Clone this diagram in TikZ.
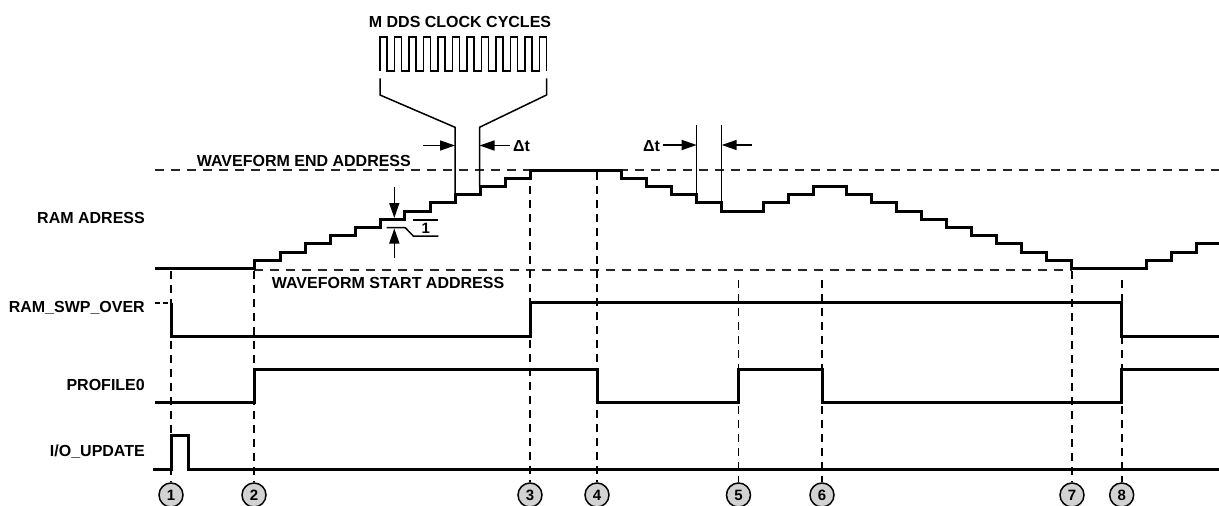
\documentclass[tikz,border=0pt]{standalone}
\usepackage{fontspec}
\setmainfont{Liberation Sans}
\usetikzlibrary{arrows.meta}
\begin{document}
\begin{tikzpicture}[x=1pt,y=-1pt,
  sig/.style={line width=3pt, line join=miter},
  thinln/.style={line width=1.5pt},
  dl/.style={line width=1.7pt, dash pattern=on 8pt off 6pt},
  dlthick/.style={line width=2.8pt, dash pattern=on 8pt off 6pt},
  hdl/.style={line width=1.5pt, black!85, dash pattern=on 9pt off 7pt},
  lbl/.style={font=\fontsize{16}{18}\selectfont\bfseries, inner sep=0pt},
  numcirc/.style={circle, draw, line width=1.5pt, fill=gray!35, minimum size=24pt, inner sep=0pt, font=\fontsize{15}{15}\selectfont\bfseries},
  arr/.style={thinln, -{Triangle[length=15pt,width=10pt]}},
]
\useasboundingbox (0,0) rectangle (1219,506);

% ---- labels ----
\node[lbl, anchor=base east] (lram) at (145,223) {RAM ADRESS};
\node[lbl, anchor=base east] (lswp) at (145,312.2) {RAM\_SWP\_OVER};
\node[lbl, anchor=base east] (lprof) at (145,390.7) {PROFILE0};
\node[lbl, anchor=base east] (lio) at (145,456.4) {I/O\_UPDATE};
\node[lbl, anchor=base] (lclk) at (460,27.4) {M DDS CLOCK CYCLES};
\node[lbl, anchor=base west] (lend) at (196.7,166.4) {WAVEFORM END ADDRESS};
\node[lbl, anchor=base west] (lstart) at (271.7,288) {WAVEFORM START ADDRESS};
\node[lbl, anchor=base west] (dt1) at (513,151.2) {Δt};
\node[lbl, anchor=base west] (dt2) at (643,151) {Δt};
\node[lbl, font=\fontsize{15}{15}\selectfont\bfseries, anchor=base] (one) at (425.7,233.5) {1};

% ---- marker circles ----
\foreach \n/\x in {1/171,2/254,3/530,4/597,5/738.5,6/822,7/1072,8/1121.7}
  \node[numcirc] (m\n) at (\x,495) {\n};

% ---- address reference lines ----
\draw[hdl] (155,170) -- (1219,170);
\draw[hdl] (254,270) -- (1072,270);

% ---- vertical dashed markers ----
\draw[dl] (171,271) -- (m1.north);
\draw[dl] (254,271) -- (m2.north);
\draw[dlthick] (530,172) -- (m3.north);
\draw[dl] (597,172) -- (m4.north);
\draw[dl] (738.5,280) -- (m5.north);
\draw[dl] (822,280) -- (m6.north);
\draw[dl] (1072,271) -- (m7.north);
\draw[dl] (1121.7,280) -- (m8.north);

% ---- RAM address staircase ----
\draw[sig] (155,268.5) -| (254,260.3) -| (280,252.1) -| (305,243.9) -| (330,235.7)
  -| (355,227.5) -| (380,219.3) -| (404.5,211.1) -| (430,202.9) -| (455,194.7)
  -| (480,186.5) -| (505,178.3) -| (530,170.1) -| (621.7,178.3) -| (646.7,186.5)
  -| (671.7,194.7) -| (696.7,202.9) -| (721.7,211.1) -| (763.3,202.9) -| (788.3,194.7)
  -| (813.3,186.5) -| (846,194.7) -| (871.7,202.9) -| (896.7,211.1) -| (921.7,219.3)
  -| (946.7,227.5) -| (971.7,235.7) -| (996.7,243.9) -| (1021.7,252.1) -| (1046.7,260.3)
  -| (1071.7,268.5) -| (1146.7,260.3) -| (1171.7,252.1) -| (1196.7,243.9) -- (1219,243.9);

% ---- RAM_SWP_OVER ----
\draw[line width=1.5pt, dash pattern=on 5pt off 3pt] (155,303) -- (170,303);
\draw[sig] (171,302.7) -- (171,336) -- (530,336) -- (530,302.7) -- (1121.7,302.7)
  -- (1121.7,336) -- (1219,336);

% ---- PROFILE0 ----
\draw[sig] (155,402) -- (254,402) -- (254,369) -- (597,369) -- (597,402) -- (738.5,402)
  -- (738.5,369) -- (822,369) -- (822,402) -- (1121.7,402) -- (1121.7,369) -- (1219,369);

% ---- I/O_UPDATE ----
\draw[sig] (153,469) -- (171,469) -- (171,435) -- (188.3,435) -- (188.3,469) -- (1219,469);

% ---- clock ----
\draw[line width=1.6pt] (380,70.7)
  \foreach \i in {0,...,10}{ -- ++(0,-34) -- ++(7,0) -- ++(0,34) -- ++(7.5,0)}
  -- ++(0,-34) -- ++(7,0) -- ++(0,34);
\draw[thinln] (380,78.3) -- (380,95) -- (455,127.3) -- (455,194.7);
\draw[thinln] (546.5,78.3) -- (546.5,95) -- (479.5,127.3) -- (479.5,186.5);

% ---- delta t ----
\draw[arr] (423.3,145.5) -- (455,145.5);
\draw[arr] (510,145.5) -- (479.5,145.5);
\draw[thinln] (696.7,125) -- (696.7,194.7);
\draw[thinln] (721.7,125) -- (721.7,202.9);
\draw[arr] (662.5,145) -- (696.7,145);
\draw[arr] (751.7,145) -- (721.7,145);

% ---- step size annotation ----
\draw[arr] (394.3,186.7) -- (394.3,218);
\draw[arr] (394.3,258.3) -- (394.3,228.5);
\draw[thinln] (386.7,227.5) -- (405,227.5) -- (413.3,236) -- (438.3,236);
\draw[thinln] (413.3,220) -- (438.3,220);
\end{tikzpicture}
\end{document}
